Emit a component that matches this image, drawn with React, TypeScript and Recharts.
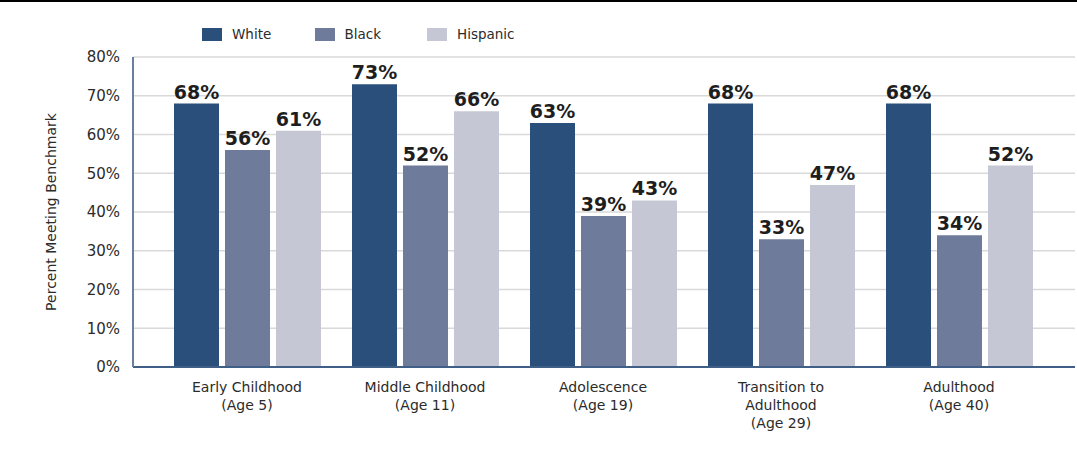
import React from 'react';
import { BarChart, Bar, XAxis, YAxis, CartesianGrid, LabelList } from 'recharts';

const categories = [
  'Early Childhood\n(Age 5)',
  'Middle Childhood\n(Age 11)',
  'Adolescence\n(Age 19)',
  'Transition to\nAdulthood\n(Age 29)',
  'Adulthood\n(Age 40)',
];
const whiteValues = [68, 73, 63, 68, 68];
const blackValues = [56, 52, 39, 33, 34];
const hispanicValues = [61, 66, 43, 47, 52];
const yTicks = [0, 10, 20, 30, 40, 50, 60, 70, 80];
const seriesNames = ['White', 'Black', 'Hispanic'];
const seriesColors = ['#294f7a', '#6e7b9a', '#c5c7d4'];

const data = categories.map((c, i) => ({
  category: c,
  White: whiteValues[i],
  Black: blackValues[i],
  Hispanic: hispanicValues[i],
}));

const FONT = '"DejaVu Sans", sans-serif';

const XTick = (props: any) => {
  const { x, y, payload } = props;
  const lines = String(payload.value).split('\n');
  return (
    <text x={x} y={y} textAnchor="middle" fill="#2b2b2b" fontSize={14} fontFamily={FONT}>
      {lines.map((l, i) => (
        <tspan key={i} x={x} dy={i === 0 ? '0.71em' : 18}>
          {l}
        </tspan>
      ))}
    </text>
  );
};

const LegendBox = () => (
  <div
    style={{
      position: 'absolute',
      left: 202,
      top: 27,
      display: 'flex',
      fontFamily: FONT,
      fontSize: 13.5,
      color: '#2b2b2b',
      height: 14,
    }}
  >
    {seriesNames.map((n, i) => (
      <div key={n} style={{ width: 112.5, display: 'flex', alignItems: 'center' }}>
        <div style={{ width: 20, height: 13, background: seriesColors[i], marginRight: 10 }} />
        <span>{n}</span>
      </div>
    ))}
  </div>
);

export default function App() {
  return (
    <div style={{ position: 'absolute', left: 0, top: 0, width: 1077, height: 476, background: '#fff' }}>
      <div style={{ position: 'absolute', left: 0, top: 0, width: 1077, height: 2, background: '#000' }} />
      <LegendBox />
      <BarChart
        width={1077}
        height={476}
        data={data}
        margin={{ top: 57, right: 2, bottom: 0, left: 0 }}
        barGap={6}
        barSize={45}
      >
        <CartesianGrid vertical={false} stroke="#d9d9d9" strokeWidth={1.5} />
        <XAxis
          dataKey="category"
          interval={0}
          padding={{ left: 25, right: 27 }}
          axisLine={{ stroke: '#3f5f86', strokeWidth: 2 }}
          tickLine={false}
          tickSize={0}
          tickMargin={15}
          tick={<XTick />}
          height={109}
        />
        <YAxis
          domain={[0, 80]}
          ticks={yTicks}
          interval={0}
          width={133}
          axisLine={{ stroke: '#6a7fa0', strokeWidth: 2 }}
          tickLine={false}
          tickSize={0}
          tickMargin={13}
          tickFormatter={(v: number) => `${v}%`}
          tick={{ fill: '#2b2b2b', fontSize: 15, fontFamily: FONT }}
          label={{
            value: 'Percent Meeting Benchmark',
            angle: -90,
            position: 'insideLeft',
            offset: 51,
            style: { textAnchor: 'middle' },
            fontSize: 14,
            fill: '#2b2b2b',
            fontFamily: FONT,
          }}
        />
        {seriesNames.map((n, i) => (
          <Bar key={n} dataKey={n} fill={seriesColors[i]} isAnimationActive={false}>
            <LabelList
              dataKey={n}
              position="top"
              offset={5}
              formatter={(v: any) => `${v}%`}
              style={{ fontSize: 19, fontWeight: 700, fill: '#1e1e1e', fontFamily: FONT }}
            />
          </Bar>
        ))}
      </BarChart>
    </div>
  );
}
